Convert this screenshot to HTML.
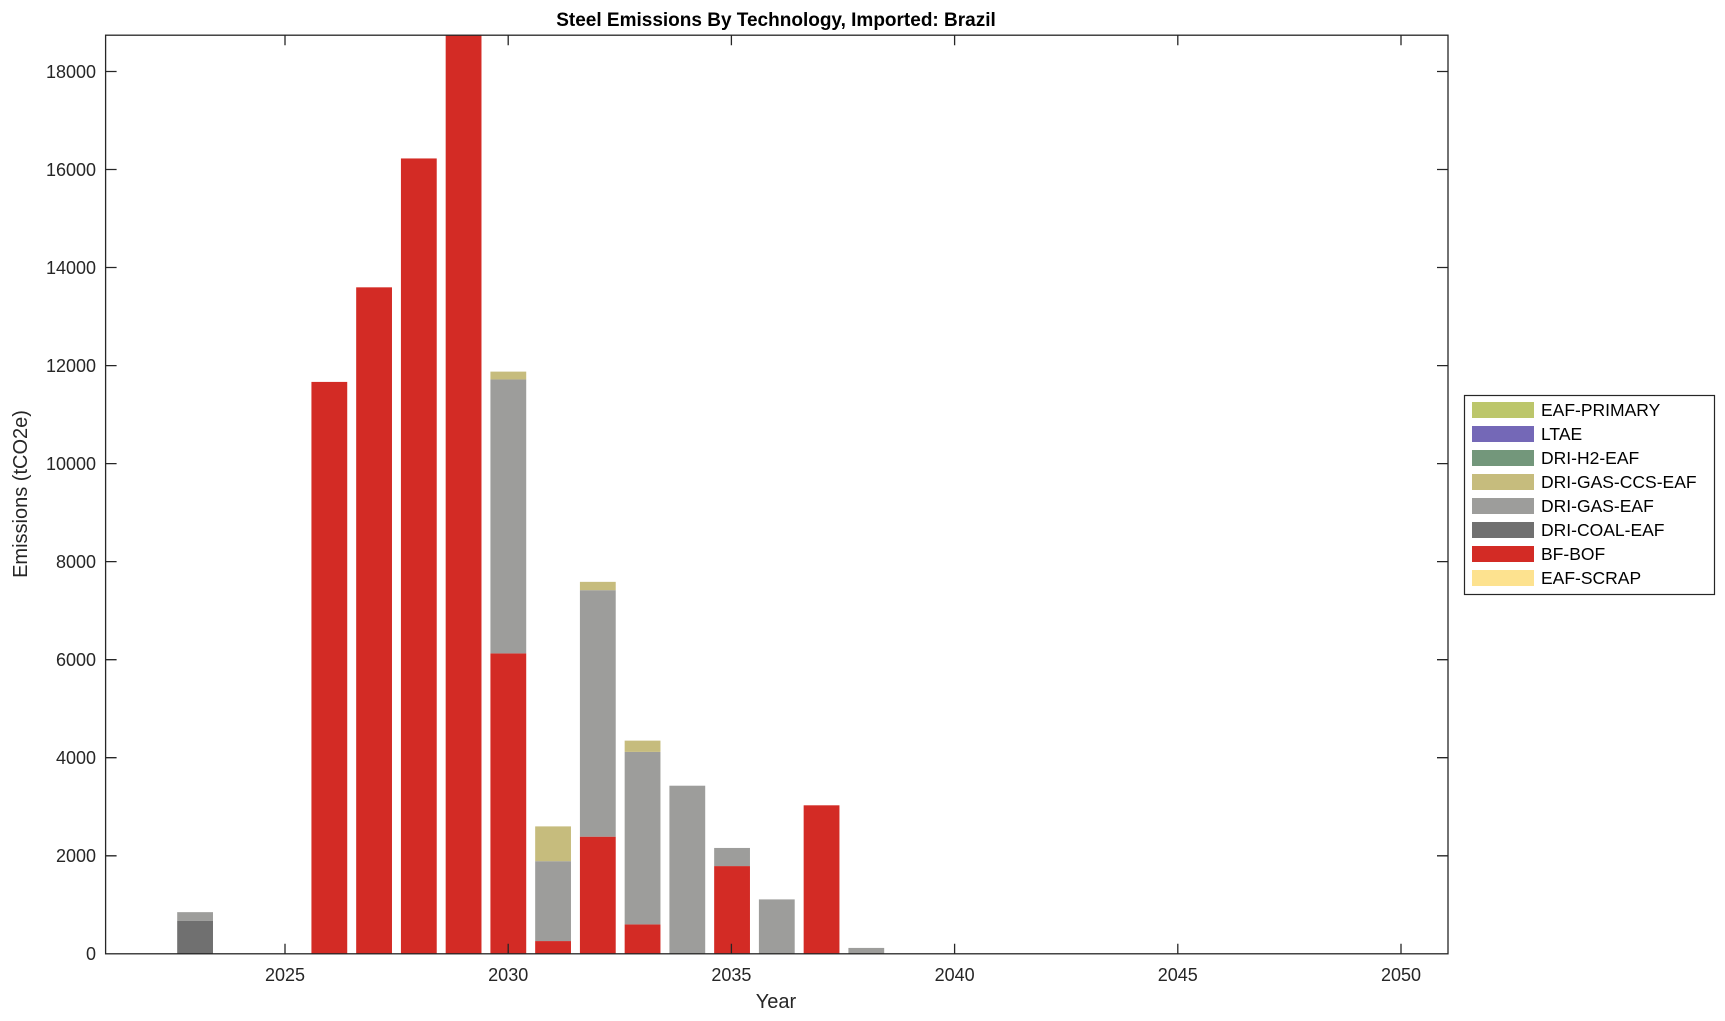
<!DOCTYPE html>
<html><head><meta charset="utf-8"><style>
html,body{margin:0;padding:0;background:#fff;}
svg{display:block;font-family:"Liberation Sans",Arial,sans-serif;}
</style></head><body>
<svg width="1725" height="1021" viewBox="0 0 1725 1021" xmlns="http://www.w3.org/2000/svg">
<rect width="1725" height="1021" fill="#fff"/>
<g>
<rect x="177.19" y="920.97" width="35.8" height="32.83" fill="#707070"/>
<rect x="177.19" y="912.15" width="35.8" height="8.82" fill="#9d9d9b"/>
<rect x="311.43" y="381.91" width="35.8" height="571.89" fill="#d32b25"/>
<rect x="356.18" y="287.33" width="35.8" height="666.47" fill="#d32b25"/>
<rect x="400.93" y="158.45" width="35.8" height="795.35" fill="#d32b25"/>
<rect x="445.68" y="35.2" width="35.8" height="918.6" fill="#d32b25"/>
<rect x="490.42" y="653.40" width="35.8" height="300.40" fill="#d32b25"/>
<rect x="490.42" y="379.46" width="35.8" height="273.94" fill="#9d9d9b"/>
<rect x="490.42" y="371.62" width="35.8" height="7.84" fill="#c6bc7d"/>
<rect x="535.17" y="941.06" width="35.8" height="12.74" fill="#d32b25"/>
<rect x="535.17" y="861.18" width="35.8" height="79.88" fill="#9d9d9b"/>
<rect x="535.17" y="826.39" width="35.8" height="34.79" fill="#c6bc7d"/>
<rect x="579.92" y="836.68" width="35.8" height="117.12" fill="#d32b25"/>
<rect x="579.92" y="590.18" width="35.8" height="246.5" fill="#9d9d9b"/>
<rect x="579.92" y="581.85" width="35.8" height="8.33" fill="#c6bc7d"/>
<rect x="624.66" y="924.40" width="35.8" height="29.40" fill="#d32b25"/>
<rect x="624.66" y="751.90" width="35.8" height="172.5" fill="#9d9d9b"/>
<rect x="624.66" y="740.63" width="35.8" height="11.27" fill="#c6bc7d"/>
<rect x="669.41" y="785.71" width="35.8" height="168.09" fill="#9d9d9b"/>
<rect x="714.16" y="866.08" width="35.8" height="87.72" fill="#d32b25"/>
<rect x="714.16" y="847.95" width="35.8" height="18.13" fill="#9d9d9b"/>
<rect x="758.90" y="899.40" width="35.8" height="54.40" fill="#9d9d9b"/>
<rect x="803.65" y="805.31" width="35.8" height="148.49" fill="#d32b25"/>
<rect x="848.40" y="947.92" width="35.8" height="5.88" fill="#9d9d9b"/>
</g>
<g stroke="#262626" stroke-width="1.3" fill="none">
<rect x="105.6" y="35.2" width="1342.4" height="918.6"/>
<path d="M285 953.8v-10M285 35.2v10M508.2 953.8v-10M508.2 35.2v10M731.4 953.8v-10M731.4 35.2v10M954.6 953.8v-10M954.6 35.2v10M1177.8 953.8v-10M1177.8 35.2v10M1401 953.8v-10M1401 35.2v10"/>
<path d="M105.6 71.5h11M1448 71.5h-11M105.6 169.5h11M1448 169.5h-11M105.6 267.5h11M1448 267.5h-11M105.6 365.6h11M1448 365.6h-11M105.6 463.6h11M1448 463.6h-11M105.6 561.6h11M1448 561.6h-11M105.6 659.7h11M1448 659.7h-11M105.6 757.7h11M1448 757.7h-11M105.6 855.8h11M1448 855.8h-11"/>
</g>
<g font-size="18" fill="#262626" text-anchor="end">
<text x="96" y="78">18000</text><text x="96" y="176">16000</text><text x="96" y="274">14000</text><text x="96" y="372">12000</text><text x="96" y="470">10000</text><text x="96" y="568">8000</text><text x="96" y="666">6000</text><text x="96" y="764">4000</text><text x="96" y="862">2000</text><text x="96" y="960">0</text>
</g>
<g font-size="18" fill="#262626" text-anchor="middle">
<text x="285" y="981">2025</text><text x="508.2" y="981">2030</text><text x="731.4" y="981">2035</text><text x="954.6" y="981">2040</text><text x="1177.8" y="981">2045</text><text x="1401" y="981">2050</text>
<text x="776" y="1008" font-size="20">Year</text>
<text transform="translate(27 494) rotate(-90)" font-size="20">Emissions (tCO2e)</text>
<text x="776" y="26" font-size="19" font-weight="bold" fill="#000">Steel Emissions By Technology, Imported: Brazil</text>
</g>
<rect x="1464.5" y="395.5" width="250" height="199" fill="#fff" stroke="#262626" stroke-width="1.2"/>
<g font-size="17.5" fill="#000">
<rect x="1472" y="402" width="62" height="16" fill="#bcc66b"/><text x="1541" y="416">EAF-PRIMARY</text>
<rect x="1472" y="426" width="62" height="16" fill="#7468b7"/><text x="1541" y="440">LTAE</text>
<rect x="1472" y="450" width="62" height="16" fill="#73977b"/><text x="1541" y="464">DRI-H2-EAF</text>
<rect x="1472" y="474" width="62" height="16" fill="#c6bc7d"/><text x="1541" y="488">DRI-GAS-CCS-EAF</text>
<rect x="1472" y="498" width="62" height="16" fill="#9d9d9b"/><text x="1541" y="512">DRI-GAS-EAF</text>
<rect x="1472" y="522" width="62" height="16" fill="#707070"/><text x="1541" y="536">DRI-COAL-EAF</text>
<rect x="1472" y="546" width="62" height="16" fill="#d32b25"/><text x="1541" y="560">BF-BOF</text>
<rect x="1472" y="570" width="62" height="16" fill="#fde28f"/><text x="1541" y="584">EAF-SCRAP</text>
</g>
</svg>
</body></html>
